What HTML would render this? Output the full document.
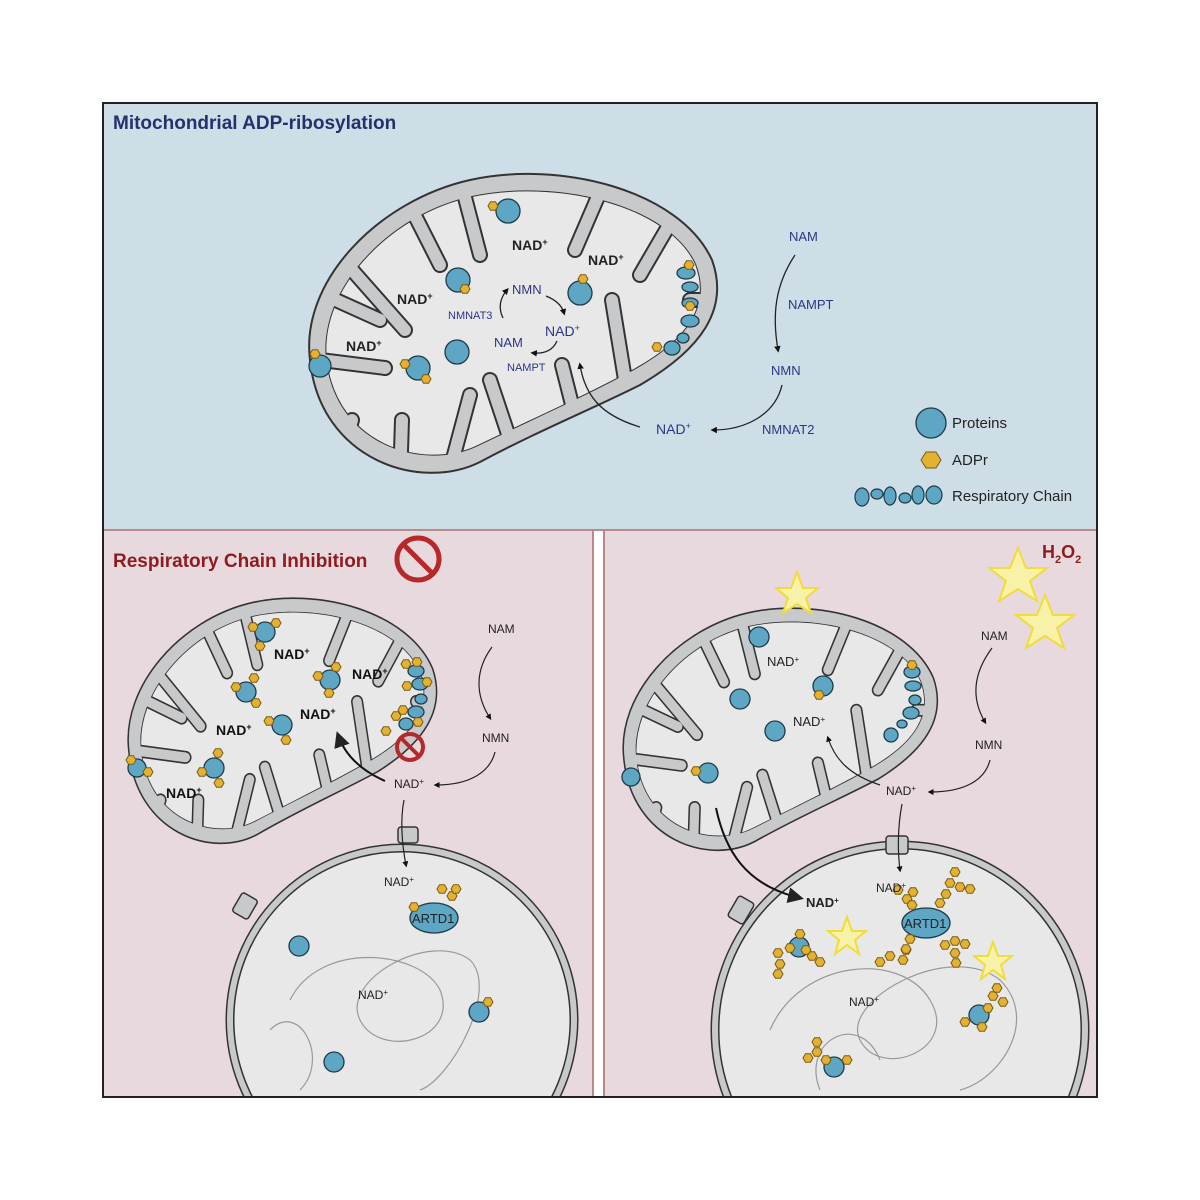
<!DOCTYPE html>
<html><head><meta charset="utf-8"><style>
html,body{margin:0;padding:0;background:#fff}
svg{display:block}
text{font-family:"Liberation Sans",sans-serif}
</style></head><body>
<svg width="1200" height="1200" viewBox="0 0 1200 1200" xmlns="http://www.w3.org/2000/svg">
<defs>
<clipPath id="mclip"><path d="M310,360 C300,280 380,200 470,180 C560,160 680,190 712,260 C730,310 700,350 640,385 C590,410 540,430 480,462 C420,492 320,460 310,360 Z"/></clipPath>
<g id="fingers">
<path d="M345,262 L405,330"/><path d="M405,196 L440,265"/><path d="M462,186 L480,255"/><path d="M606,178 L575,250"/><path d="M672,220 L640,275"/>
<path d="M340,465 L352,420"/><path d="M400,482 L402,420"/><path d="M450,470 L470,395"/><path d="M515,455 L490,380"/><path d="M578,428 L562,365"/><path d="M628,398 L612,300"/><path d="M305,358 L385,368"/><path d="M318,292 L380,320"/><path d="M700,300 L690,300"/>
</g>
<g id="mito">
<path d="M310,360 C300,280 380,200 470,180 C560,160 680,190 712,260 C730,310 700,350 640,385 C590,410 540,430 480,462 C420,492 320,460 310,360 Z" fill="#c8c9cb"/>
<path d="M326,360 C318,290 388,214 472,196 C556,178 668,204 696,264 C712,306 688,340 634,370 C586,396 536,418 478,446 C424,472 336,446 326,360 Z" fill="#e8e8e9" stroke="#333" stroke-width="2"/>
<g clip-path="url(#mclip)">
<use href="#fingers" stroke="#333" stroke-width="16" stroke-linecap="round" fill="none"/>
<use href="#fingers" stroke="#c8c9cb" stroke-width="12" stroke-linecap="round" fill="none"/>
</g>
<path fill-rule="evenodd" fill="#c8c9cb" d="M310,360 C300,280 380,200 470,180 C560,160 680,190 712,260 C730,310 700,350 640,385 C590,410 540,430 480,462 C420,492 320,460 310,360 Z M326,360 C336,446 424,472 478,446 C536,418 586,396 634,370 C688,340 712,306 696,264 C668,204 556,178 472,196 C388,214 318,290 326,360 Z"/>
<path d="M310,360 C300,280 380,200 470,180 C560,160 680,190 712,260 C730,310 700,350 640,385 C590,410 540,430 480,462 C420,492 320,460 310,360 Z" fill="none" stroke="#333" stroke-width="2"/>
</g>
<g id="hex"><polygon points="-5,0 -2.5,-4.3 2.5,-4.3 5,0 2.5,4.3 -2.5,4.3" fill="#e3b232" stroke="#7a5a10" stroke-width="1"/></g>
<marker id="ar" markerWidth="8" markerHeight="8" refX="6" refY="4" orient="auto"><path d="M0,0 L8,4 L0,8 Z" fill="#222"/></marker>
<marker id="arb" markerWidth="5" markerHeight="5" refX="3" refY="2.5" orient="auto"><path d="M0,0 L5,2.5 L0,5 Z" fill="#111"/></marker>
</defs>

<rect x="103" y="103" width="994" height="427" fill="#cedee6"/>
<rect x="103" y="530" width="490" height="567" fill="#e8d9de"/>
<rect x="604" y="530" width="493" height="567" fill="#e8d9de"/>
<line x1="103" y1="530" x2="1097" y2="530" stroke="#b88a88" stroke-width="2"/>
<line x1="593" y1="530" x2="593" y2="1097" stroke="#b88a88" stroke-width="2"/>
<line x1="604" y1="530" x2="604" y2="1097" stroke="#b88a88" stroke-width="2"/>
<rect x="103" y="103" width="994" height="994" fill="none" stroke="#222" stroke-width="2"/>

<text x="113" y="129" font-size="19" font-weight="bold" fill="#25306e">Mitochondrial ADP-ribosylation</text>

<use href="#mito"/>
<g font-size="14" font-weight="bold" fill="#222">
<text x="512" y="250">NAD<tspan font-size="9" dy="-5">+</tspan></text>
<text x="588" y="265">NAD<tspan font-size="9" dy="-5">+</tspan></text>
<text x="397" y="304">NAD<tspan font-size="9" dy="-5">+</tspan></text>
<text x="346" y="351">NAD<tspan font-size="9" dy="-5">+</tspan></text>
</g>
<g font-size="13" fill="#2c3585">
<text x="512" y="294">NMN</text>
<text x="545" y="336" font-size="14">NAD<tspan font-size="9" dy="-5">+</tspan></text>
<text x="494" y="347">NAM</text>
<text x="448" y="319" font-size="11">NMNAT3</text>
<text x="507" y="371" font-size="11">NAMPT</text>
<text x="789" y="241">NAM</text>
<text x="788" y="309">NAMPT</text>
<text x="771" y="375">NMN</text>
<text x="656" y="434" font-size="14">NAD<tspan font-size="9" dy="-5">+</tspan></text>
<text x="762" y="434">NMNAT2</text>
</g>
<g fill="none" stroke="#222" stroke-width="1.3">
<path d="M503,318 C498,308 500,298 507,290" marker-end="url(#arb)"/>
<path d="M546,296 C556,300 562,306 564,313" marker-end="url(#arb)"/>
<path d="M557,341 C553,350 545,354 533,353" marker-end="url(#arb)"/>
<path d="M640,427 C600,415 585,395 580,365" marker-end="url(#arb)"/>
<path d="M795,255 C775,285 772,315 778,350" marker-end="url(#arb)"/>
<path d="M782,385 C775,415 745,430 713,430" marker-end="url(#arb)"/>
</g>
<g stroke="#1f3a48" stroke-width="1.3" fill="#5ea7c4">
<circle cx="508" cy="211" r="12"/><circle cx="458" cy="280" r="12"/><circle cx="580" cy="293" r="12"/><circle cx="457" cy="352" r="12"/><circle cx="418" cy="368" r="12"/><circle cx="320" cy="366" r="11"/>
<ellipse cx="686" cy="273" rx="9" ry="6"/><ellipse cx="690" cy="287" rx="8" ry="5"/><ellipse cx="690" cy="303" rx="8" ry="5"/><ellipse cx="690" cy="321" rx="9" ry="6"/><ellipse cx="683" cy="338" rx="6" ry="5"/><ellipse cx="672" cy="348" rx="8" ry="7"/>
</g>
<use href="#hex" x="493" y="206"/><use href="#hex" x="465" y="289"/><use href="#hex" x="583" y="279"/><use href="#hex" x="405" y="364"/><use href="#hex" x="426" y="379"/><use href="#hex" x="315" y="354"/><use href="#hex" x="689" y="265"/><use href="#hex" x="690" y="306"/><use href="#hex" x="657" y="347"/>

<circle cx="931" cy="423" r="15" fill="#5ea7c4" stroke="#1f3a48" stroke-width="1.3"/>
<text x="952" y="428" font-size="15" fill="#222">Proteins</text>
<polygon points="921,460 926,452 936,452 941,460 936,468 926,468" fill="#e3b232" stroke="#7a5a10"/>
<text x="952" y="465" font-size="15" fill="#222">ADPr</text>
<g fill="#5ea7c4" stroke="#1f3a48" stroke-width="1.2">
<ellipse cx="862" cy="497" rx="7" ry="9"/><ellipse cx="877" cy="494" rx="6" ry="5"/><ellipse cx="890" cy="496" rx="6" ry="9"/><ellipse cx="905" cy="498" rx="6" ry="5"/><ellipse cx="918" cy="495" rx="6" ry="9"/><ellipse cx="934" cy="495" rx="8" ry="9"/>
</g>
<text x="952" y="501" font-size="15" fill="#222">Respiratory Chain</text>

<text x="113" y="567" font-size="19" font-weight="bold" fill="#8e1c1f">Respiratory Chain Inhibition</text>
<circle cx="418" cy="559" r="21" fill="none" stroke="#b7282b" stroke-width="5"/><line x1="404" y1="545" x2="432" y2="573" stroke="#b7282b" stroke-width="5"/>

<circle cx="402" cy="1020" r="172" fill="#e8e8e9" stroke="#333" stroke-width="9"/>
<circle cx="402" cy="1020" r="172" fill="none" stroke="#c8c9cb" stroke-width="6"/>
<circle cx="900" cy="1030" r="185" fill="#e8e8e9" stroke="#333" stroke-width="9"/>
<circle cx="900" cy="1030" r="185" fill="none" stroke="#c8c9cb" stroke-width="6"/>
<rect x="100" y="1098" width="1000" height="102" fill="#fff"/>
<line x1="103" y1="1097" x2="1097" y2="1097" stroke="#222" stroke-width="2"/>
<g fill="none" stroke="#999" stroke-width="1.2">
<path d="M290,1000 C320,940 420,950 440,990 C460,1040 380,1060 360,1020 C340,980 430,930 470,960 C500,990 450,1080 420,1090"/>
<path d="M270,1030 C300,1000 330,1060 300,1090"/>
<path d="M770,1030 C800,960 900,950 930,1000 C960,1050 880,1080 860,1040 C840,1000 950,940 1000,980 C1040,1020 1000,1080 960,1090"/>
<path d="M820,1090 C800,1040 860,1010 880,1060"/>
</g>
<g fill="#c8c9cb" stroke="#333" stroke-width="1.5">
<rect x="398" y="827" width="20" height="16" rx="3"/><rect x="236" y="895" width="18" height="22" rx="3" transform="rotate(30 245 906)"/>
<rect x="886" y="836" width="22" height="18" rx="3"/><rect x="732" y="898" width="18" height="24" rx="3" transform="rotate(30 741 910)"/>
</g>

<use href="#mito" transform="translate(125,595) scale(0.756,0.82) translate(-305,-170)"/>
<use href="#mito" transform="translate(620,605) scale(0.77,0.81) translate(-305,-170)"/>

<g stroke="#1f3a48" stroke-width="1.3" fill="#5ea7c4">
<circle cx="265" cy="632" r="10"/><circle cx="246" cy="692" r="10"/><circle cx="330" cy="680" r="10"/><circle cx="282" cy="725" r="10"/><circle cx="214" cy="768" r="10"/><circle cx="137" cy="768" r="9"/>
<circle cx="299" cy="946" r="10"/><circle cx="479" cy="1012" r="10"/><circle cx="334" cy="1062" r="10"/>
<ellipse cx="416" cy="671" rx="8" ry="6"/><ellipse cx="420" cy="684" rx="8" ry="6"/><ellipse cx="421" cy="699" rx="6" ry="5"/><ellipse cx="416" cy="712" rx="8" ry="6"/><ellipse cx="406" cy="724" rx="7" ry="6"/>
<ellipse cx="434" cy="918" rx="24" ry="15"/>
</g>
<g>
<use href="#hex" x="253" y="627"/><use href="#hex" x="276" y="623"/><use href="#hex" x="260" y="646"/>
<use href="#hex" x="236" y="687"/><use href="#hex" x="254" y="678"/><use href="#hex" x="256" y="703"/>
<use href="#hex" x="318" y="676"/><use href="#hex" x="336" y="667"/><use href="#hex" x="329" y="693"/>
<use href="#hex" x="269" y="721"/><use href="#hex" x="286" y="740"/>
<use href="#hex" x="202" y="772"/><use href="#hex" x="218" y="753"/><use href="#hex" x="219" y="783"/>
<use href="#hex" x="131" y="760"/><use href="#hex" x="148" y="772"/>
<use href="#hex" x="406" y="664"/><use href="#hex" x="417" y="662"/><use href="#hex" x="407" y="686"/><use href="#hex" x="427" y="682"/><use href="#hex" x="418" y="722"/><use href="#hex" x="396" y="716"/><use href="#hex" x="386" y="731"/><use href="#hex" x="403" y="710"/>
<use href="#hex" x="414" y="907"/><use href="#hex" x="442" y="889"/><use href="#hex" x="452" y="896"/><use href="#hex" x="456" y="889"/><use href="#hex" x="488" y="1002"/>
</g>
<circle cx="410" cy="747" r="13" fill="none" stroke="#b7282b" stroke-width="4"/><line x1="401" y1="738" x2="419" y2="756" stroke="#b7282b" stroke-width="4"/>
<g font-size="14" font-weight="bold" fill="#111">
<text x="274" y="659">NAD<tspan font-size="9" dy="-5">+</tspan></text>
<text x="352" y="679">NAD<tspan font-size="9" dy="-5">+</tspan></text>
<text x="300" y="719">NAD<tspan font-size="9" dy="-5">+</tspan></text>
<text x="216" y="735">NAD<tspan font-size="9" dy="-5">+</tspan></text>
<text x="166" y="798">NAD<tspan font-size="9" dy="-5">+</tspan></text>
</g>
<g font-size="12" fill="#222">
<text x="488" y="633">NAM</text><text x="482" y="742">NMN</text>
<text x="394" y="788">NAD<tspan font-size="8" dy="-4">+</tspan></text>
<text x="384" y="886">NAD<tspan font-size="8" dy="-4">+</tspan></text>
<text x="358" y="999">NAD<tspan font-size="8" dy="-4">+</tspan></text>
<text x="412" y="923" font-size="13">ARTD1</text>
</g>
<g fill="none" stroke="#222" stroke-width="1.2">
<path d="M492,647 C475,670 475,695 490,718" marker-end="url(#arb)"/>
<path d="M495,752 C490,772 470,785 436,785" marker-end="url(#arb)"/>
<path d="M404,800 C400,820 402,845 406,865" marker-end="url(#arb)"/>
</g>
<path d="M385,781 C360,770 345,755 338,735" fill="none" stroke="#111" stroke-width="2" marker-end="url(#ar)"/>

<g fill="#f7f2a8" stroke="#f0dc3a" stroke-width="2">
<polygon points="797,572 803,588 818,588 806,598 811,613 797,604 783,613 788,598 776,588 791,588"/>
<polygon points="1018,548 1026,568 1047,568 1030,581 1037,601 1018,589 999,601 1006,581 989,568 1010,568"/>
<polygon points="1045,595 1053,615 1074,615 1057,628 1064,648 1045,636 1026,648 1033,628 1016,615 1037,615"/>
<polygon points="847,917 852,931 866,931 855,940 859,954 847,945 835,954 839,940 828,931 842,931"/>
<polygon points="993,942 998,956 1012,956 1001,965 1005,979 993,970 981,979 985,965 974,956 988,956"/>
</g>
<text x="1042" y="558" font-size="18" font-weight="bold" fill="#8e1c1f">H<tspan font-size="11" dy="5">2</tspan><tspan dy="-5">O</tspan><tspan font-size="11" dy="5">2</tspan></text>
<g stroke="#1f3a48" stroke-width="1.3" fill="#5ea7c4">
<circle cx="759" cy="637" r="10"/><circle cx="823" cy="686" r="10"/><circle cx="740" cy="699" r="10"/><circle cx="775" cy="731" r="10"/><circle cx="708" cy="773" r="10"/><circle cx="631" cy="777" r="9"/>
<ellipse cx="912" cy="672" rx="8" ry="6"/><ellipse cx="913" cy="686" rx="8" ry="5"/><ellipse cx="915" cy="700" rx="6" ry="5"/><ellipse cx="911" cy="713" rx="8" ry="6"/><ellipse cx="902" cy="724" rx="5" ry="4"/><ellipse cx="891" cy="735" rx="7" ry="7"/>
<ellipse cx="926" cy="923" rx="24" ry="15"/>
<circle cx="799" cy="947" r="10"/><circle cx="979" cy="1015" r="10"/><circle cx="834" cy="1067" r="10"/>
</g>
<use href="#hex" x="819" y="695"/><use href="#hex" x="696" y="771"/><use href="#hex" x="912" y="665"/>
<g>
<use href="#hex" x="898" y="890"/><use href="#hex" x="907" y="899"/><use href="#hex" x="913" y="892"/><use href="#hex" x="912" y="905"/>
<use href="#hex" x="955" y="872"/><use href="#hex" x="950" y="883"/><use href="#hex" x="960" y="887"/><use href="#hex" x="970" y="889"/><use href="#hex" x="946" y="894"/><use href="#hex" x="940" y="903"/>
<use href="#hex" x="910" y="939"/><use href="#hex" x="906" y="950"/><use href="#hex" x="903" y="960"/><use href="#hex" x="890" y="956"/><use href="#hex" x="880" y="962"/><use href="#hex" x="906" y="949"/>
<use href="#hex" x="945" y="945"/><use href="#hex" x="955" y="941"/><use href="#hex" x="965" y="944"/><use href="#hex" x="955" y="953"/><use href="#hex" x="956" y="963"/>
<use href="#hex" x="800" y="934"/><use href="#hex" x="812" y="956"/><use href="#hex" x="820" y="962"/><use href="#hex" x="790" y="948"/><use href="#hex" x="778" y="953"/><use href="#hex" x="780" y="964"/><use href="#hex" x="778" y="974"/><use href="#hex" x="806" y="950"/>
<use href="#hex" x="993" y="996"/><use href="#hex" x="1003" y="1002"/><use href="#hex" x="988" y="1008"/><use href="#hex" x="965" y="1022"/><use href="#hex" x="982" y="1027"/><use href="#hex" x="997" y="988"/>
<use href="#hex" x="817" y="1042"/><use href="#hex" x="817" y="1052"/><use href="#hex" x="808" y="1058"/><use href="#hex" x="826" y="1060"/><use href="#hex" x="847" y="1060"/>
</g>
<g font-size="12" fill="#222">
<text x="981" y="640">NAM</text><text x="975" y="749">NMN</text>
<text x="886" y="795">NAD<tspan font-size="8" dy="-4">+</tspan></text>
<text x="876" y="892">NAD<tspan font-size="8" dy="-4">+</tspan></text>
<text x="849" y="1006">NAD<tspan font-size="8" dy="-4">+</tspan></text>
<text x="767" y="666" font-size="13">NAD<tspan font-size="8" dy="-4">+</tspan></text>
<text x="793" y="726" font-size="13">NAD<tspan font-size="8" dy="-4">+</tspan></text>
<text x="904" y="928" font-size="13">ARTD1</text>
<text x="806" y="907" font-size="13" font-weight="bold">NAD<tspan font-size="8" dy="-4">+</tspan></text>
</g>
<g fill="none" stroke="#222" stroke-width="1.2">
<path d="M992,648 C972,675 972,700 985,722" marker-end="url(#arb)"/>
<path d="M990,760 C985,780 965,792 930,792" marker-end="url(#arb)"/>
<path d="M902,804 C897,830 898,855 900,870" marker-end="url(#arb)"/>
<path d="M880,785 C850,775 835,760 828,738" marker-end="url(#arb)"/>
</g>
<path d="M716,808 C725,850 745,885 800,898" fill="none" stroke="#111" stroke-width="2" marker-end="url(#ar)"/>
</svg>
</body></html>
